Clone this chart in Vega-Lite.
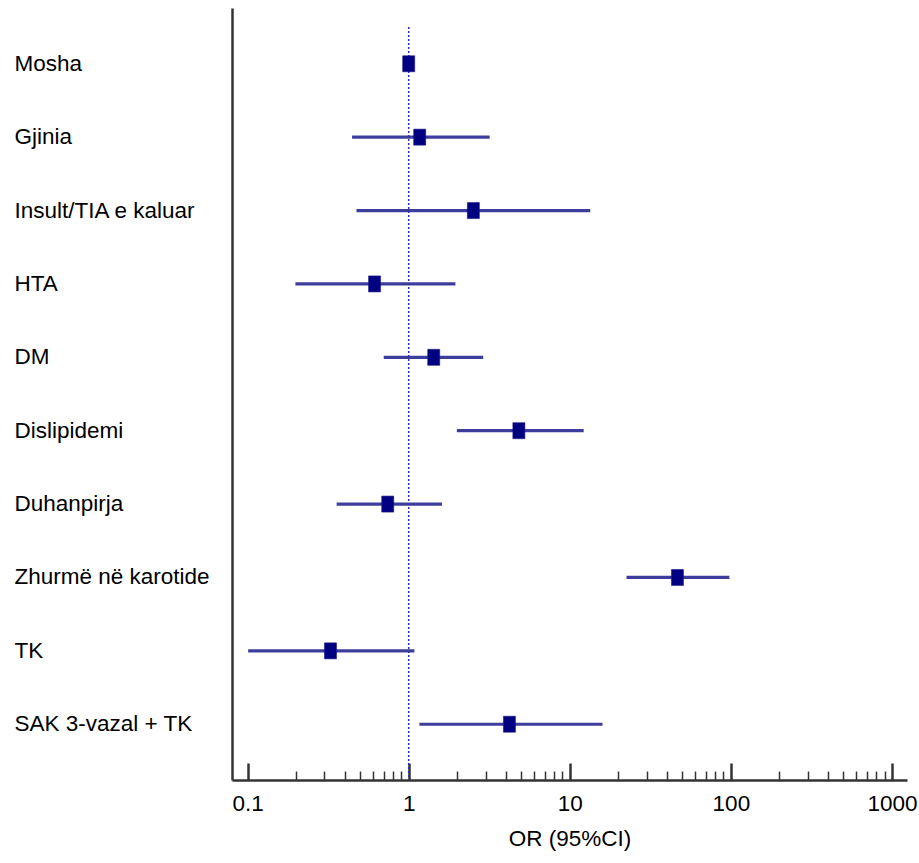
{
  "$schema": "https://vega.github.io/schema/vega-lite/v6.json",
  "width": 675,
  "height": 772,
  "padding": {"left": 14, "top": 8, "right": 5, "bottom": 5},
  "background": "white",
  "config": {"view": {"stroke": null}, "font": "Liberation Sans"},
  "data": {"values": [
    {"factor": "Mosha", "or": 1.0, "lo": 0.98, "hi": 1.03},
    {"factor": "Gjinia", "or": 1.17, "lo": 0.445, "hi": 3.18},
    {"factor": "Insult/TIA e kaluar", "or": 2.52, "lo": 0.474, "hi": 13.4},
    {"factor": "HTA", "or": 0.614, "lo": 0.198, "hi": 1.95},
    {"factor": "DM", "or": 1.43, "lo": 0.70, "hi": 2.90},
    {"factor": "Dislipidemi", "or": 4.83, "lo": 1.99, "hi": 12.2},
    {"factor": "Duhanpirja", "or": 0.741, "lo": 0.357, "hi": 1.61},
    {"factor": "Zhurmë në karotide", "or": 46.6, "lo": 22.5, "hi": 97.9},
    {"factor": "TK", "or": 0.327, "lo": 0.1008, "hi": 1.085},
    {"factor": "SAK 3-vazal + TK", "or": 4.22, "lo": 1.165, "hi": 15.97}
  ]},
  "resolve": {"axis": {"x": "independent"}},
  "layer": [
    {
      "data": {"values": [{"ref": 1}]},
      "mark": {"type": "rule", "color": "#2f2fa0", "strokeWidth": 1.5, "strokeDash": [2, 2]},
      "encoding": {
        "x": {"field": "ref", "type": "quantitative", "axis": null,
              "scale": {"type": "log", "domain": [0.08, 1240], "nice": false}},
        "y": {"datum": "Mosha", "type": "nominal", "bandPosition": 0},
        "y2": {"value": {"expr": "height"}}
      }
    },
    {
      "mark": {"type": "rule", "color": "#333399", "strokeWidth": 3.2, "opacity": 0.95},
      "encoding": {
        "y": {"field": "factor", "type": "nominal", "sort": null,
              "scale": {"paddingInner": 0, "paddingOuter": 0.26},
              "axis": {"title": null, "orient": "left", "ticks": false, "tickSize": 0,
                       "labelAlign": "left", "labelPadding": 218, "labelFontSize": 22.5,
                       "labelFont": "Liberation Sans", "labelColor": "#000000", "labelLimit": 0,
                       "domain": true, "domainColor": "#333333", "domainWidth": 2.5, "grid": false}},
        "x": {"field": "lo", "type": "quantitative",
              "scale": {"type": "log", "domain": [0.08, 1240], "nice": false},
              "axis": {"orient": "bottom", "title": "OR (95%CI)", "values": [0.1, 1, 10, 100, 1000], "format": "~g",
                       "tickSize": -17, "tickWidth": 2.5, "tickColor": "#333333",
                       "labelPadding": 29, "labelFontSize": 22.5, "labelFont": "Liberation Sans",
                       "labelColor": "#000000", "labelFlush": false, "labelOverlap": false,
                       "domain": true, "domainColor": "#333333", "domainWidth": 2.5, "grid": false,
                       "titleFont": "Liberation Sans", "titleFontSize": 22.5, "titleFontWeight": "normal",
                       "titleColor": "#000000", "titlePadding": 13}},
        "x2": {"field": "hi"}
      }
    },
    {
      "mark": {"type": "point", "shape": "M-0.75,-1H0.75V1H-0.75Z", "filled": true, "size": 256,
               "color": "#000080", "opacity": 1, "stroke": "#1a1a8a", "strokeWidth": 0.6},
      "encoding": {
        "y": {"field": "factor", "type": "nominal", "sort": null},
        "x": {"field": "or", "type": "quantitative",
              "scale": {"type": "log", "domain": [0.08, 1240], "nice": false},
              "axis": {"orient": "bottom", "title": null, "labels": false, "domain": false, "grid": false,
                       "values": [0.2, 0.3, 0.4, 0.5, 0.6, 0.7, 0.8, 0.9, 2, 3, 4, 5, 6, 7, 8, 9, 20, 30, 40, 50, 60, 70, 80, 90, 200, 300, 400, 500, 600, 700, 800, 900],
                       "tickSize": -9, "tickWidth": 1.5, "tickColor": "#333333"}}
      }
    }
  ]
}
